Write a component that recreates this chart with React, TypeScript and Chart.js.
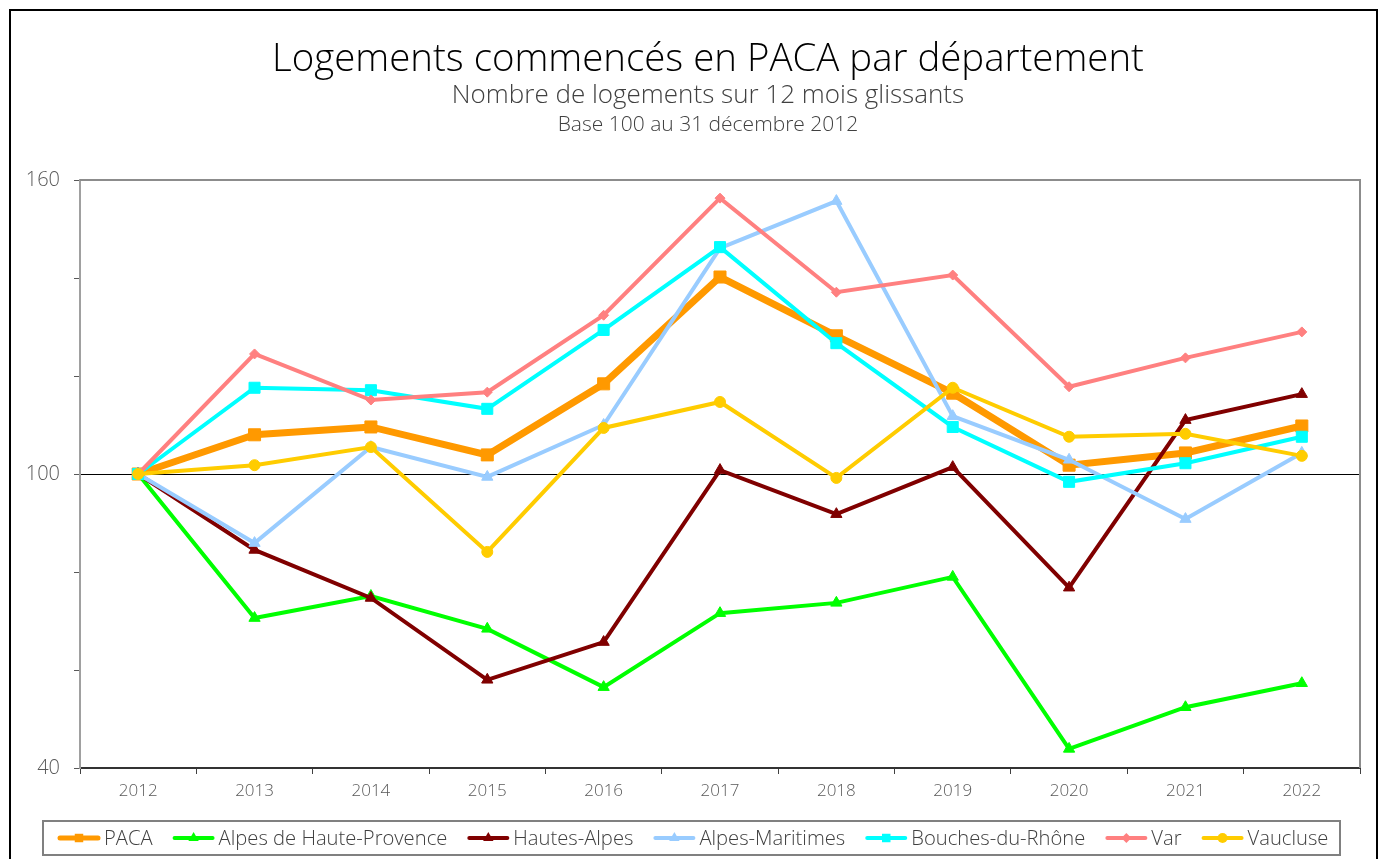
import React, { useEffect, useRef } from "react";
import { Chart, registerables } from "chart.js";

Chart.register(...registerables);

const categories = ["2012", "2013", "2014", "2015", "2016", "2017", "2018", "2019", "2020", "2021", "2022"];
const paca = [100, 108.0, 109.6, 103.9, 118.4, 140.2, 128.2, 116.5, 101.8, 104.3, 109.8];
const alpesHauteProvence = [100, 70.6, 75.1, 68.4, 56.5, 71.6, 73.7, 79.0, 43.9, 52.4, 57.3];
const hautesAlpes = [100, 84.5, 74.7, 58.0, 65.7, 100.8, 91.8, 101.4, 76.8, 111.0, 116.3];
const alpesMaritimes = [100, 85.9, 105.5, 99.4, 110.0, 146.1, 155.7, 111.8, 102.9, 90.8, 104.3];
const bouchesDuRhone = [100, 117.6, 117.1, 113.3, 129.4, 146.3, 126.7, 109.6, 98.4, 102.2, 107.6];
const varDept = [100, 124.5, 115.1, 116.7, 132.4, 156.3, 137.1, 140.6, 117.8, 123.7, 129.0];
const vaucluse = [100, 101.8, 105.5, 84.1, 109.4, 114.7, 99.2, 117.6, 107.6, 108.2, 103.7];
const seriesNames = ["PACA", "Alpes de Haute-Provence", "Hautes-Alpes", "Alpes-Maritimes", "Bouches-du-Rhône", "Var", "Vaucluse"];
const yLabeledTicks = [40, 100, 160];
const titleLines = ["Logements commencés en PACA par département", "Nombre de logements sur 12 mois glissants", "Base 100 au 31 décembre 2012"];

const FONT = "'Open Sans', Lato, sans-serif";

const styles = [
  { color: "#FF9900", width: 7, point: "rect", radius: 8.5, legendRadius: 6 },
  { color: "#00FF00", width: 4, point: "triangle", radius: 6.5, legendRadius: 6 },
  { color: "#800000", width: 4, point: "triangle", radius: 6.5, legendRadius: 6 },
  { color: "#99CCFF", width: 4, point: "triangle", radius: 6.5, legendRadius: 6 },
  { color: "#00FFFF", width: 4, point: "rect", radius: 7.8, legendRadius: 6 },
  { color: "#FF8080", width: 4, point: "rectRot", radius: 5, legendRadius: 5 },
  { color: "#FFCC00", width: 4, point: "circle", radius: 5.5, legendRadius: 5 },
];

const allSeries = [paca, alpesHauteProvence, hautesAlpes, alpesMaritimes, bouchesDuRhone, varDept, vaucluse];

function drawMarker(ctx: CanvasRenderingContext2D, style: string, r: number, x: number, y: number) {
  ctx.beginPath();
  if (style === "rect") {
    const s = r * Math.SQRT1_2;
    ctx.rect(x - s, y - s, 2 * s, 2 * s);
  } else if (style === "triangle") {
    ctx.moveTo(x, y - r);
    ctx.lineTo(x + r * Math.sin(Math.PI / 3), y + r * 0.5);
    ctx.lineTo(x - r * Math.sin(Math.PI / 3), y + r * 0.5);
    ctx.closePath();
  } else if (style === "rectRot") {
    ctx.moveTo(x, y - r);
    ctx.lineTo(x + r, y);
    ctx.lineTo(x, y + r);
    ctx.lineTo(x - r, y);
    ctx.closePath();
  } else {
    ctx.arc(x, y, r, 0, Math.PI * 2);
  }
  ctx.fill();
}

const decorPlugin = {
  id: "decor",
  afterDraw(chart: any) {
    const ctx = chart.ctx as CanvasRenderingContext2D;
    const ca = chart.chartArea;
    ctx.save();
    // outer border
    ctx.strokeStyle = "#000";
    ctx.lineWidth = 2;
    ctx.strokeRect(10, 10, 1367, 900);
    // plot frame top/right
    ctx.strokeStyle = "#8c8c8c";
    ctx.lineWidth = 2;
    ctx.beginPath();
    ctx.moveTo(ca.left, ca.top);
    ctx.lineTo(ca.right, ca.top);
    ctx.lineTo(ca.right, ca.bottom);
    ctx.stroke();
    // titles
    ctx.textAlign = "center";
    ctx.textBaseline = "middle";
    const cx = 708;
    ctx.fillStyle = "#000";
    ctx.font = `300 38.4px ${FONT}`;
    ctx.fillText(titleLines[0], cx, 60);
    ctx.fillStyle = "#404040";
    ctx.font = `300 26px ${FONT}`;
    ctx.fillText(titleLines[1], cx, 96);
    ctx.font = `300 21px ${FONT}`;
    ctx.fillText(titleLines[2], cx, 125);

    // legend
    const boxL = 43, boxR = 1340, boxT = 821, boxB = 855;
    ctx.strokeStyle = "#808080";
    ctx.lineWidth = 2;
    ctx.strokeRect(boxL, boxT, boxR - boxL, boxB - boxT);
    ctx.font = `300 20.2px ${FONT}`;
    ctx.textAlign = "left";
    const iconW = 44, gapText = 3, gapItem = 19;
    const widths = seriesNames.map((n) => iconW + gapText + ctx.measureText(n).width);
    let x = 57;
    const y = (boxT + boxB) / 2;
    seriesNames.forEach((name, i) => {
      const st = styles[i];
      ctx.strokeStyle = st.color;
      ctx.lineWidth = Math.min(st.width, 5);
      ctx.lineCap = "round";
      ctx.beginPath();
      ctx.moveTo(x + 3, y);
      ctx.lineTo(x + iconW - 3, y);
      ctx.stroke();
      ctx.fillStyle = st.color;
      drawMarker(ctx, st.point, st.legendRadius, x + iconW / 2, y);
      ctx.fillStyle = "#404040";
      ctx.fillText(name, x + iconW + gapText, y + 1);
      x += widths[i] + gapItem;
    });
    ctx.restore();
  },
};

export default function App() {
  const ref = useRef<HTMLCanvasElement>(null);
  useEffect(() => {
    if (!ref.current) return;
    const datasets = allSeries.map((data, i) => ({
      label: seriesNames[i],
      data,
      borderColor: styles[i].color,
      backgroundColor: styles[i].color,
      borderWidth: styles[i].width,
      pointStyle: styles[i].point,
      pointRadius: styles[i].radius,
      pointBorderWidth: 1,
      pointBackgroundColor: styles[i].color,
      pointBorderColor: styles[i].color,
      tension: 0,
      order: allSeries.length - 1 - i,
    }));
    const chart = new Chart(ref.current, {
      type: "line",
      data: { labels: categories, datasets },
      options: {
        responsive: false,
        animation: false,
        layout: { padding: { left: 20, right: 22, top: 180, bottom: 51 } },
        plugins: { legend: { display: false }, title: { display: false }, tooltip: { enabled: false } },
        scales: {
          x: {
            type: "category",
            offset: true,
            afterFit: (s: any) => { s.height = 40; },
            grid: {
              offset: true,
              drawOnChartArea: false,
              drawTicks: true,
              tickLength: 6,
              tickColor: "#404040",
              tickWidth: 1,
            },
            border: { color: "#333", width: 2 },
            ticks: { color: "#595959", font: { family: FONT, size: 17, weight: "300" as any }, padding: 7, maxRotation: 0 },
          },
          y: {
            min: 40,
            max: 160,
            afterFit: (s: any) => { s.width = 60; },
            ticks: {
              stepSize: 20,
              color: "#595959",
              font: { family: FONT, size: 20, weight: "300" as any },
              padding: 14,
              callback: (v: any) => (yLabeledTicks.includes(Number(v)) ? String(v) : ""),
            },
            grid: {
              color: (c: any) => (c.tick && c.tick.value === 100 ? "#000" : "rgba(0,0,0,0)"),
              lineWidth: 1,
              tickColor: "#595959",
              tickLength: 6,
            },
            border: { color: "#a0a0a0", width: 2 },
          },
        },
      },
      plugins: [decorPlugin],
    });
    return () => chart.destroy();
  }, []);
  return (
    <div style={{ position: "absolute", left: 0, top: 0, width: 1382, height: 859, background: "#fff" }}>
      <canvas ref={ref} width={1382} height={859} />
    </div>
  );
}
